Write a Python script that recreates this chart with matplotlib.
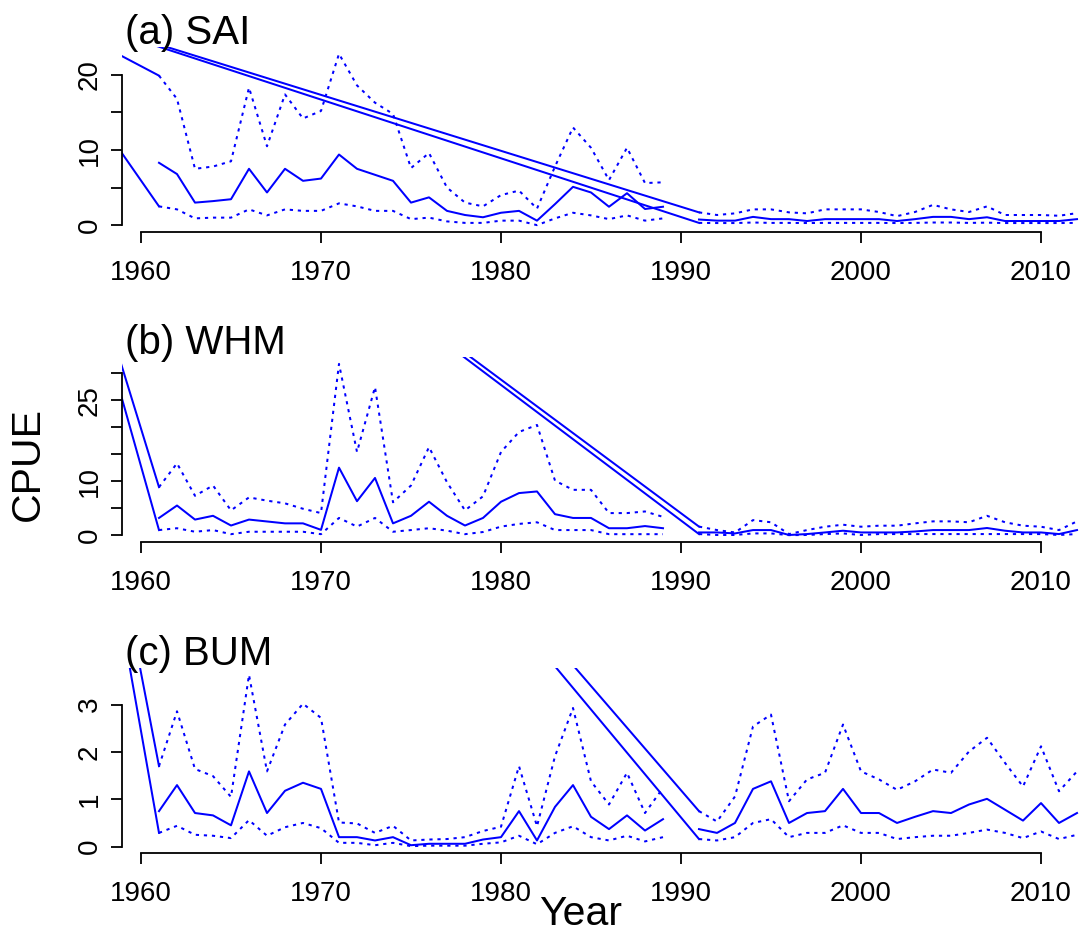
import matplotlib
matplotlib.use("Agg")
import matplotlib.pyplot as plt

plt.rcParams['font.family'] = ['Liberation Sans', 'DejaVu Sans']

# ---------------- data ----------------
years1 = list(range(1961, 1990))
years2 = list(range(1991, 2013))
origin_year = 1953

sai_mean1 = [8.3, 6.8, 3.0, 3.2, 3.45, 7.5, 4.35, 7.5, 5.9, 6.2, 9.4, 7.5, 6.7, 5.9, 3.0,
             3.7, 1.9, 1.35, 1.05, 1.65, 1.9, 0.6, 2.8, 5.1, 4.35, 2.45, 4.25, 2.15, 2.45]
sai_upper1 = [19.9, 16.8, 7.5, 7.8, 8.5, 18.3, 10.5, 17.4, 14.2, 15.2, 22.8, 18.6, 16.3, 14.8, 7.6,
              9.6, 5.0, 3.0, 2.5, 4.0, 4.6, 2.2, 7.8, 13.0, 10.3, 6.0, 10.3, 5.6, 5.7]
sai_lower1 = [2.5, 2.1, 0.9, 1.0, 1.0, 2.1, 1.3, 2.1, 1.9, 1.9, 2.9, 2.5, 1.9, 1.9, 0.8,
              1.0, 0.5, 0.3, 0.3, 0.6, 0.6, 0.0, 0.9, 1.65, 1.3, 0.8, 1.3, 0.6, 0.9]
sai_mean2 = [0.75, 0.6, 0.6, 1.1, 0.8, 0.8, 0.55, 0.8, 0.8, 0.8, 0.8, 0.55, 0.8, 1.1, 1.1,
             0.8, 1.05, 0.55, 0.55, 0.55, 0.55, 0.8]
sai_upper2 = [1.7, 1.35, 1.57, 2.1, 2.1, 1.7, 1.57, 2.1, 2.1, 2.1, 1.75, 1.2, 1.75, 2.7, 2.1,
              1.75, 2.5, 1.35, 1.35, 1.35, 1.25, 1.6]
sai_lower2 = [0.3, 0.28, 0.28, 0.35, 0.3, 0.3, 0.28, 0.3, 0.3, 0.3, 0.3, 0.28, 0.3, 0.35, 0.35,
              0.3, 0.33, 0.28, 0.28, 0.28, 0.28, 0.3]
sai_origin = 30.0

whm_mean1 = [3.2, 5.5, 2.9, 3.6, 1.8, 2.9, 2.55, 2.2, 2.2, 1.0, 12.5, 6.3, 10.6, 2.2, 3.6,
             6.2, 3.6, 1.8, 3.2, 6.2, 7.8, 8.1, 3.9, 3.2, 3.2, 1.3, 1.3, 1.7, 1.3]
whm_upper1 = [8.9, 13.3, 7.3, 9.2, 4.6, 7.0, 6.4, 5.9, 4.9, 4.1, 31.7, 15.4, 27.4, 6.1, 9.2,
              16.3, 9.8, 4.6, 7.2, 15.4, 19.1, 20.4, 10.1, 8.4, 8.4, 4.1, 4.1, 4.4, 3.4]
whm_lower1 = [0.96, 1.3, 0.65, 0.96, 0.2, 0.65, 0.65, 0.65, 0.65, 0.2, 3.2, 1.6, 3.2, 0.65, 0.96,
              1.3, 0.85, 0.2, 0.6, 1.6, 2.1, 2.4, 0.96, 0.96, 0.96, 0.2, 0.2, 0.2, 0.2]
whm_mean2 = [0.52, 0.52, 0.34, 0.96, 0.96, 0.05, 0.22, 0.52, 0.84, 0.52, 0.52, 0.52, 0.7, 0.96,
             0.96, 0.96, 1.34, 0.84, 0.52, 0.52, 0.22, 0.96]
whm_upper2 = [1.6, 0.96, 0.52, 2.8, 2.4, 0.22, 0.96, 1.58, 1.95, 1.58, 1.77, 1.77, 2.2, 2.57,
              2.57, 2.4, 3.6, 2.4, 1.77, 1.58, 0.96, 2.57]
whm_lower2 = [0.22, 0.05, 0.05, 0.34, 0.34, 0.02, 0.05, 0.22, 0.34, 0.05, 0.22, 0.22, 0.22, 0.22,
              0.22, 0.22, 0.22, 0.22, 0.22, 0.22, 0.05, 0.22]
whm_origin = 95.5

bum_mean1 = [0.75, 1.30, 0.71, 0.66, 0.45, 1.59, 0.71, 1.18, 1.35, 1.22, 0.2, 0.2, 0.13, 0.2, 0.03,
             0.06, 0.06, 0.06, 0.15, 0.2, 0.75, 0.13, 0.84, 1.30, 0.63, 0.37, 0.66, 0.34, 0.58]
bum_upper1 = [1.70, 2.86, 1.64, 1.49, 1.05, 3.63, 1.59, 2.58, 3.02, 2.72, 0.51, 0.49, 0.29, 0.44, 0.13,
              0.15, 0.16, 0.2, 0.33, 0.42, 1.70, 0.43, 1.91, 2.93, 1.38, 0.89, 1.56, 0.71, 1.24]
bum_lower1 = [0.29, 0.44, 0.25, 0.23, 0.18, 0.56, 0.23, 0.41, 0.5, 0.39, 0.08, 0.08, 0.03, 0.08, 0.01,
              0.02, 0.02, 0.02, 0.06, 0.09, 0.23, 0.05, 0.29, 0.43, 0.2, 0.13, 0.23, 0.11, 0.2]
bum_mean2 = [0.37, 0.29, 0.5, 1.22, 1.38, 0.5, 0.71, 0.75, 1.22, 0.71, 0.71, 0.5, 0.63, 0.75, 0.71,
             0.89, 1.01, 0.78, 0.55, 0.92, 0.5, 0.71]
bum_upper2 = [0.75, 0.53, 1.06, 2.54, 2.79, 0.96, 1.42, 1.56, 2.58, 1.59, 1.42, 1.20, 1.38, 1.63, 1.56,
              2.01, 2.30, 1.77, 1.27, 2.12, 1.17, 1.59]
bum_lower2 = [0.16, 0.13, 0.2, 0.5, 0.58, 0.2, 0.29, 0.29, 0.45, 0.29, 0.29, 0.16, 0.2, 0.23, 0.23,
              0.29, 0.36, 0.29, 0.18, 0.32, 0.16, 0.25]
bum_origin = 17.5

titles = ["(a) SAI", "(b) WHM", "(c) BUM"]
xticks = [1960, 1970, 1980, 1990, 2000, 2010]
yticks_list = [[0, 5, 10, 15, 20], [0, 5, 10, 15, 20, 25, 30], [0, 1, 2, 3]]
ylabels_list = [["0", "", "10", "", "20"], ["0", "", "10", "", "", "25", ""], ["0", "1", "2", "3"]]

panels = [
    (sai_mean1, sai_upper1, sai_lower1, sai_mean2, sai_upper2, sai_lower2, sai_origin),
    (whm_mean1, whm_upper1, whm_lower1, whm_mean2, whm_upper2, whm_lower2, whm_origin),
    (bum_mean1, bum_upper1, bum_lower1, bum_mean2, bum_upper2, bum_lower2, bum_origin),
]

# ---------------- layout ----------------
W, H = 1081, 934
fig = plt.figure(figsize=(W / 100, H / 100), dpi=100)
blue = "#0000FF"
lw = 1.45
dot = (0, (1.6, 2.4))

plot_tops = [47, 357, 668]
plot_h = 185
x_px_1960 = 141.0
px_per_year = 18.0

all_years = years1 + years2
xr = max(all_years) - min(all_years)
xlo, xhi = min(all_years) - 0.04 * xr, max(all_years) + 0.04 * xr
left_px = x_px_1960 - (1960 - xlo) * px_per_year
width_px = (xhi - xlo) * px_per_year

for i, (m1, u1, l1, m2, u2, l2, orig) in enumerate(panels):
    top = plot_tops[i]
    ax = fig.add_axes([left_px / W, 1 - (top + plot_h) / H, width_px / W, plot_h / H])
    ax.patch.set_alpha(0)
    # CI dotted
    ax.plot(years1, u1, color=blue, lw=lw, linestyle=dot)
    ax.plot(years1, l1, color=blue, lw=lw, linestyle=dot)
    ax.plot(years2, u2, color=blue, lw=lw, linestyle=dot)
    ax.plot(years2, l2, color=blue, lw=lw, linestyle=dot)
    # mean solid
    ax.plot(years1, m1, color=blue, lw=lw)
    ax.plot(years2, m2, color=blue, lw=lw)
    # connector lines from the stray origin point to the CI segment starts
    for ys, vs in [(years1, u1), (years1, l1), (years2, u2), (years2, l2)]:
        ax.plot([origin_year, ys[0]], [orig, vs[0]], color=blue, lw=lw)

    lo = min(min(l1), min(l2))
    hi = max(max(u1), max(u2))
    pad = 0.04 * (hi - lo)
    ax.set_ylim(lo - pad, hi + pad)
    ax.set_xlim(xlo, xhi)

    for s in ["top", "right"]:
        ax.spines[s].set_visible(False)
    yt = yticks_list[i]
    ax.spines["left"].set_bounds(yt[0], yt[-1])
    ax.spines["bottom"].set_bounds(xticks[0], xticks[-1])
    for s in ["left", "bottom"]:
        ax.spines[s].set_linewidth(1.3)
    ax.set_xticks(xticks)
    ax.set_xticklabels([str(t) for t in xticks])
    ax.set_yticks(yt)
    ax.set_yticklabels(ylabels_list[i])
    ax.tick_params(axis="both", direction="out", length=8, width=1.3, labelsize=20)
    ax.tick_params(axis="x", pad=12)
    ax.tick_params(axis="y", pad=6, labelrotation=90)
    for lab in ax.get_yticklabels():
        lab.set_va("center")

    fig.text(125 / W, 1 - (top - 3) / H, titles[i], fontsize=29, ha="left", va="baseline")

fig.text(28 / W, 1 - 464 / H, "CPUE", fontsize=29.5, rotation=90, ha="center", va="center")
fig.text(581 / W, 1 - 925 / H, "Year", fontsize=29.5, ha="center", va="baseline")

fig.savefig("out.png", dpi=100)
